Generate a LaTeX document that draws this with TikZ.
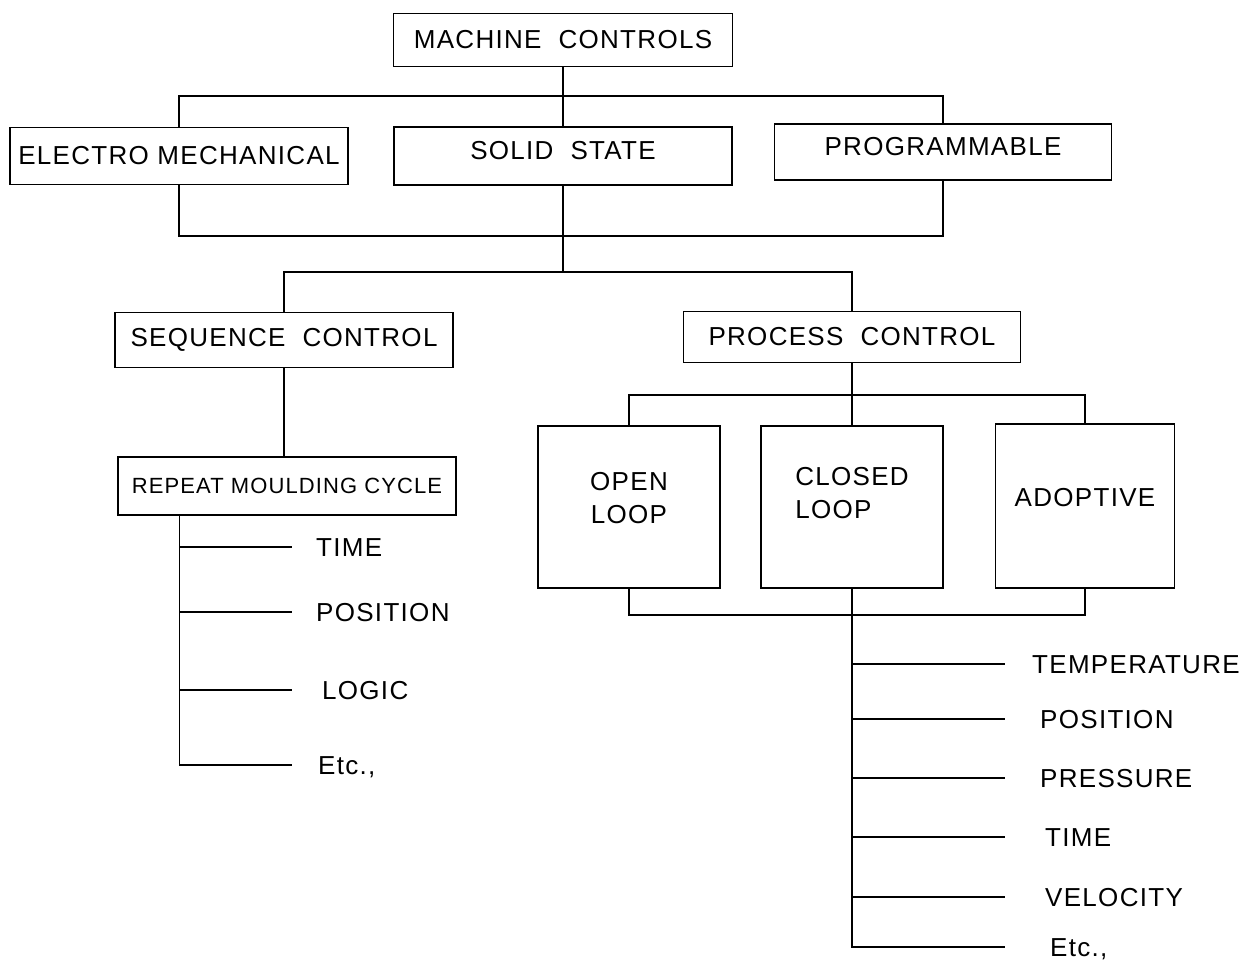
\documentclass[tikz,border=0pt]{standalone}
\usepackage{fontspec}
\setmainfont{Liberation Sans}[LetterSpace=5]
\usetikzlibrary{positioning}

\begin{document}
\begin{tikzpicture}[x=1pt, y=-1pt,
  box/.style={draw, line width=1.5pt, inner sep=0pt, align=center,
    font=\fontsize{26}{33}\selectfont},
  item/.style={anchor=west, inner ysep=0pt, text height=18pt, text depth=0pt,
    font=\fontsize{26}{33}\selectfont},
  wire/.style={line width=1.5pt}]
\useasboundingbox (0,0) rectangle (1252,971);
% top level
\node[box, minimum width=339pt, minimum height=53pt] (mc) at (563,40) {MACHINE~~CONTROLS};
\node[box, minimum width=338pt, minimum height=57pt] (em) at (179,156) {ELECTRO~MECHANICAL};
\node[box, minimum width=338pt, minimum height=58pt] (ss) at (563,156) {SOLID~~STATE\\[-21pt]};
\node[box, minimum width=337pt, minimum height=56pt] (pg) at (943,152) {PROGRAMMABLE\\[-21pt]};
\coordinate (topbus) at (563,96);
\coordinate (midbus) at (563,236);
\coordinate (splitbus) at (563,272);
\draw[wire] (mc.south) -- (ss.north);
\draw[wire] (em.north) |- (topbus) -| (pg.north);
\draw[wire] (em.south) |- (midbus) -| (pg.south);
\draw[wire] (ss.south) -- (splitbus);
% second level
\node[box, minimum width=338pt, minimum height=55pt] (sc) at (284,340) {SEQUENCE~~CONTROL};
\node[box, minimum width=337pt, minimum height=51pt] (pc) at (852,337) {PROCESS~~CONTROL};
\draw[wire] (sc.north) |- (splitbus) -| (pc.north);
% sequence control
\node[box, minimum width=338pt, minimum height=58pt, font=\fontsize{22}{26}\selectfont] (rmc) at (287,486) {REPEAT MOULDING CYCLE};
\draw[wire] (sc.south) -- (sc.south |- rmc.north);
\coordinate (seqtrunk) at ([xshift=62pt]rmc.south west);
\node[item, inner xsep=24pt] (stime) at (292,547) {TIME};
\node[item, inner xsep=24pt] (spos) at (292,612) {POSITION};
\node[item, inner xsep=30pt] (slogic) at (292,690) {LOGIC};
\node[item, inner xsep=26pt] (setc) at (292,765) {Etc.,};
\draw[wire] (seqtrunk) |- (setc.west);
\draw[wire] (seqtrunk |- stime.west) -- (stime.west);
\draw[wire] (seqtrunk |- spos.west) -- (spos.west);
\draw[wire] (seqtrunk |- slogic.west) -- (slogic.west);
% process control
\node[box, minimum width=182pt, minimum height=162pt] (ol) at (629,507) {OPEN\\LOOP\\[-15pt]};
\node[box, minimum width=182pt, minimum height=162pt, align=left] (cl) at (852,507) {CLOSED\\LOOP\\[-5pt]};
\node[box, minimum width=179pt, minimum height=164pt] (ad) at (1085,506) {ADOPTIVE\\[-15pt]};
\coordinate (procbus) at (852,395);
\coordinate (lowbus) at (852,615);
\draw[wire] (pc.south) -- (cl.north);
\draw[wire] (ol.north) |- (procbus) -| (ad.north);
\draw[wire] (ol.south) |- (lowbus) -| (ad.south);
% closed loop variables
\node[item, inner xsep=27pt] (ptemp) at (1005,664) {TEMPERATURE};
\node[item, inner xsep=35pt] (ppos) at (1005,719) {POSITION};
\node[item, inner xsep=35pt] (ppres) at (1005,778) {PRESSURE};
\node[item, inner xsep=40pt] (ptime) at (1005,837) {TIME};
\node[item, inner xsep=40pt] (pvel) at (1005,897) {VELOCITY};
\node[item, inner xsep=45pt] (petc) at (1005,947) {Etc.,};
\draw[wire] (cl.south) |- (petc.west);
\draw[wire] (cl.south |- ptemp.west) -- (ptemp.west);
\draw[wire] (cl.south |- ppos.west) -- (ppos.west);
\draw[wire] (cl.south |- ppres.west) -- (ppres.west);
\draw[wire] (cl.south |- ptime.west) -- (ptime.west);
\draw[wire] (cl.south |- pvel.west) -- (pvel.west);
\end{tikzpicture}
\end{document}
